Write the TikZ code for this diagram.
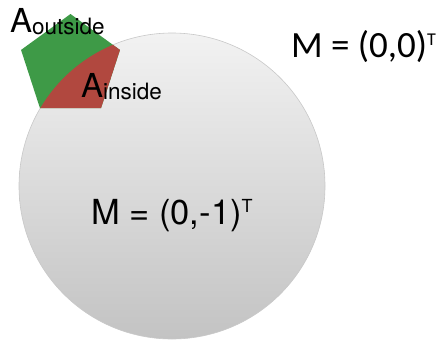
\documentclass[tikz,border=0pt]{standalone}
\usepackage{fontspec}
\setmainfont{TeX Gyre Heros}
\newfontfamily\calib{Carlito}
\definecolor{pgreen}{HTML}{3E9A47}
\definecolor{pred}{HTML}{B1483F}
\definecolor{ctop}{HTML}{F2F2F2}
\definecolor{cbot}{HTML}{C3C3C3}
\definecolor{cedge}{HTML}{C8C8C8}
\begin{document}
\begin{tikzpicture}[x=1pt,y=-1pt,
  lbl/.style={inner sep=0pt,anchor=base west,text=black},
]
\useasboundingbox (0,0) rectangle (444,340);
% circle
\coordinate (cc) at (172,186);
\node[circle,minimum size=306pt,inner sep=0pt,draw=cedge,line width=0.6pt,
  top color=ctop,bottom color=cbot] (circ) at (cc) {};
% pentagon vertices
\coordinate (v1) at (70.5,14);
\coordinate (v2) at (119.95,49.93);
\coordinate (v3) at (101.06,108.07);
\coordinate (v4) at (39.94,108.07);
\coordinate (v5) at (21.05,49.93);
\fill[pgreen] (v1)--(v2)--(v3)--(v4)--(v5)--cycle;
\begin{scope}
  \clip (cc) circle[radius=153];
  \fill[pred] (v1)--(v2)--(v3)--(v4)--(v5)--cycle;
\end{scope}
% labels
\node[lbl] (aout) at (10,32) {\fontsize{33}{33}\selectfont A\raisebox{-2pt}{\fontsize{22.5}{22}\selectfont outside}};
\node[lbl] (ain) at (81,97) {\fontsize{33}{33}\selectfont A\raisebox{-2pt}{\fontsize{22.5}{22}\selectfont inside}};
\node[lbl] (m1) at (91,224) {\fontsize{34.5}{34}\selectfont M = (0,-1)\raisebox{12pt}{\fontsize{18}{18}\selectfont T}};
\node[lbl] (m0) at (291,57) {\calib\fontsize{37}{37}\selectfont M = (0,0)\raisebox{12pt}{\fontsize{18}{18}\selectfont T}};
\end{tikzpicture}
\end{document}
